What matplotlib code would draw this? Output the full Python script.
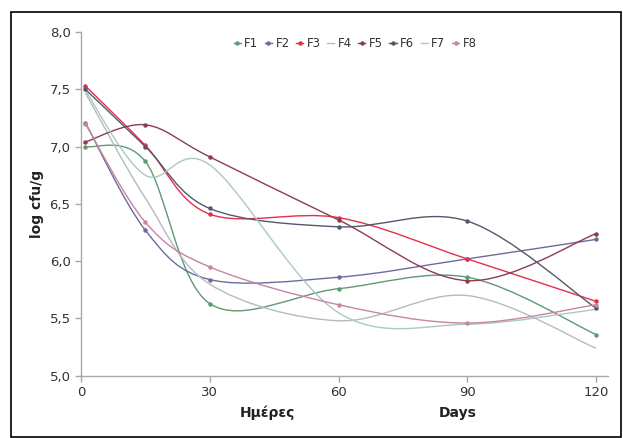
import numpy as np
import matplotlib
matplotlib.use('Agg')
import matplotlib.pyplot as plt
from matplotlib.path import Path
from matplotlib.patches import PathPatch, Rectangle
from matplotlib.ticker import FuncFormatter

# sampling days
days = [1, 15, 30, 60, 90, 120]

# log cfu/g per formulation
F1 = [7.00, 6.87, 5.63, 5.76, 5.86, 5.36]
F2 = [7.21, 6.27, 5.84, 5.86, 6.02, 6.19]
F3 = [7.53, 7.01, 6.41, 6.38, 6.02, 5.65]
F4 = [7.47, 6.55, 5.80, 5.48, 5.70, 5.24]
F5 = [7.04, 7.19, 6.91, 6.36, 5.83, 6.24]
F6 = [7.50, 7.00, 6.46, 6.30, 6.35, 5.59]
F7 = [7.49, 6.75, 6.84, 5.55, 5.45, 5.58]
F8 = [7.20, 6.34, 5.95, 5.62, 5.46, 5.62]

names = ['F1', 'F2', 'F3', 'F4', 'F5', 'F6', 'F7', 'F8']
series = [F1, F2, F3, F4, F5, F6, F7, F8]
colors = ['#5e9a72', '#6c6c9c', '#e2304c', '#b4bcbc',
          '#8a3c54', '#505a6c', '#a9c9c2', '#c784a4']
has_marker = [True, True, True, False, True, True, False, True]


def smooth_path(x, y):
    # Excel-like smoothed line: Catmull-Rom segments as cubic Bezier
    pts = np.column_stack([x, y]).astype(float)
    verts = [pts[0]]
    codes = [Path.MOVETO]
    n = len(pts)
    for i in range(n - 1):
        p0 = pts[i - 1] if i > 0 else pts[i]
        p1 = pts[i]
        p2 = pts[i + 1]
        p3 = pts[i + 2] if i + 2 < n else pts[i + 1]
        c1 = p1 + (p2 - p0) / 6.0
        c2 = p2 - (p3 - p1) / 6.0
        verts += [c1, c2, p2]
        codes += [Path.CURVE4] * 3
    return Path(verts, codes)


fig = plt.figure(figsize=(6.23, 4.38), dpi=100)
ax = fig.add_axes([0.130, 0.142, 0.846, 0.785])

for name, vals, c, mk in zip(names, series, colors, has_marker):
    ax.add_patch(PathPatch(smooth_path(days, vals), facecolor='none',
                           edgecolor=c, lw=1.0))
    ax.plot(days, vals, ls='none', marker='o' if mk else None, ms=2.2,
            color=c)
    # legend proxy
    ax.plot([], [], color=c, lw=1.0, marker='o' if mk else None, ms=2.2,
            label=name)

ax.set_xlim(0, 122.8)
ax.set_ylim(5.0, 8.0)
ax.set_xticks([0, 30, 60, 90, 120])
ax.set_yticks(np.arange(5.0, 8.01, 0.5))
ax.yaxis.set_major_formatter(FuncFormatter(lambda v, p: f'{v:.1f}'.replace('.', ',')))

for s in ['top', 'right']:
    ax.spines[s].set_visible(False)
for s in ['left', 'bottom']:
    ax.spines[s].set_color('#a8a8a8')
    ax.spines[s].set_linewidth(1.0)
ax.tick_params(colors='#a8a8a8', labelcolor='#333333', labelsize=9.5,
               length=4, width=1)

ax.set_ylabel('log cfu/g', fontsize=10, fontweight='bold', color='#222222',
              labelpad=4)
fig.text(0.430, 0.057, 'Ημέρες', fontsize=10, fontweight='bold',
         color='#222222', ha='center', va='center')
fig.text(0.735, 0.057, 'Days', fontsize=10, fontweight='bold',
         color='#222222', ha='center', va='center')

ax.legend(loc='upper center', bbox_to_anchor=(0.52, 1.015), ncol=8,
          frameon=False, fontsize=8.5, handlelength=0.6, handletextpad=0.3,
          columnspacing=0.55, labelcolor='#333333')

fig.patches.append(Rectangle((0.018, 0.003), 0.978, 0.970, transform=fig.transFigure,
                             fill=False, edgecolor='black', lw=1.2))

fig.savefig('out.png', dpi=100)
